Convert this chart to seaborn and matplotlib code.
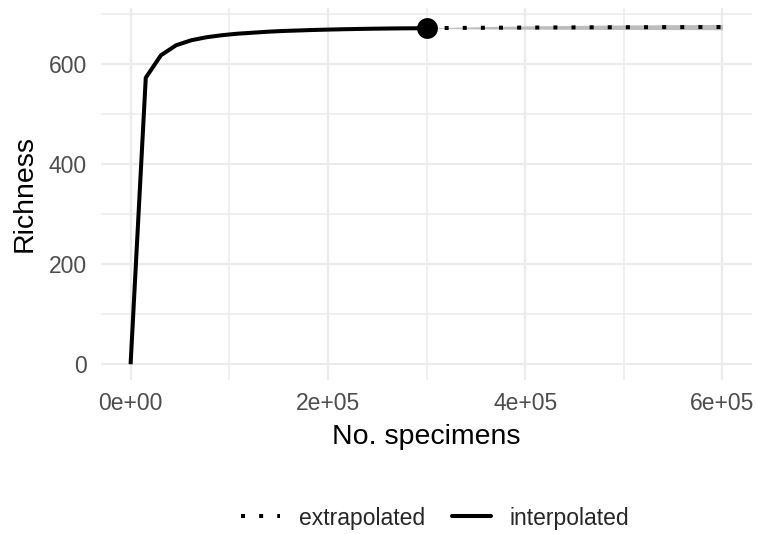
import numpy as np
import pandas as pd
import matplotlib
matplotlib.use("Agg")
import matplotlib.pyplot as plt
from matplotlib.lines import Line2D
from matplotlib.ticker import FuncFormatter, MultipleLocator
import seaborn as sns

# ---- data ----
interp_x = [0, 15385, 30769, 46154, 61538, 76923, 92308, 107692, 123077, 138462,
            153846, 169231, 184615, 200000, 215385, 230769, 246154, 261538,
            276923, 292308, 300000]
interp_y = [0, 573, 618, 638, 648, 654, 658, 661, 663, 665,
            666.5, 667.5, 668.5, 669.3, 670, 670.6, 671.1, 671.5,
            671.8, 672.0, 672.2]
extrap_x = [300000, 307692, 323077, 338462, 353846, 369231, 384615, 400000,
            415385, 430769, 446154, 461538, 476923, 492308, 507692, 523077,
            538462, 553846, 569231, 584615, 600000]
extrap_y = [672.2, 672.3, 672.5, 672.7, 672.9, 673.1, 673.2, 673.4, 673.5,
            673.6, 673.7, 673.8, 673.9, 674.0, 674.1, 674.1, 674.2, 674.3,
            674.3, 674.4, 674.4]
extrap_lo = [672.2, 671.8, 671.4, 671.0, 670.7, 670.5, 670.3, 670.1, 670.0,
             669.9, 669.8, 669.7, 669.6, 669.5, 669.5, 669.4, 669.4, 669.3,
             669.3, 669.2, 669.2]
extrap_hi = [672.2, 672.8, 673.6, 674.4, 675.1, 675.7, 676.1, 676.7, 677.0,
             677.3, 677.6, 677.9, 678.2, 678.5, 678.7, 678.8, 679.0, 679.3,
             679.3, 679.6, 679.6]
ref_x = [300000]
ref_y = [672.2]
methods = ["extrapolated", "interpolated"]
x_ticks = [0, 200000, 400000, 600000]
y_ticks = [0, 200, 400, 600]

df = pd.DataFrame({
    "x": interp_x + extrap_x,
    "y": interp_y + extrap_y,
    "method": ["interpolated"] * len(interp_x) + ["extrapolated"] * len(extrap_x),
})

sns.set_theme(style="white")
plt.rcParams["font.family"] = ["Liberation Sans", "DejaVu Sans"]

fig = plt.figure(figsize=(7.57, 5.34), dpi=100)
ax = fig.add_axes([101 / 757, 1 - 380 / 534, 651 / 757, 372 / 534])

ax.fill_between(extrap_x, extrap_lo, extrap_hi, color="#bdbdbd", lw=0, zorder=2)

lw = 2.9
dot = (1, 3.5)
sns.lineplot(data=df, x="x", y="y", hue="method", style="method",
             palette={"interpolated": "black", "extrapolated": "black"},
             dashes={"interpolated": "", "extrapolated": dot},
             linewidth=lw, ax=ax, legend=False, zorder=3, sort=False,
             estimator=None)
for l in ax.lines:
    l.set_dash_capstyle("butt")
    l.set_solid_capstyle("butt")

sns.scatterplot(x=ref_x, y=ref_y, color="black", s=225, linewidth=0, ax=ax,
                zorder=4, legend=False)

ax.set_xlim(-30000, 630000)
ax.set_ylim(-31.5, 712.5)
ax.set_xticks(x_ticks)
ax.set_yticks(y_ticks)
ax.xaxis.set_minor_locator(MultipleLocator(100000))
ax.yaxis.set_minor_locator(MultipleLocator(100))
ax.xaxis.set_major_formatter(FuncFormatter(lambda v, p: f"{v:.0e}"))
ax.grid(True, which="major", color="#ebebeb", linewidth=1.6, zorder=0)
ax.grid(True, which="minor", color="#ebebeb", linewidth=1.1, zorder=0)
ax.set_axisbelow(True)
for s in ax.spines.values():
    s.set_visible(False)
ax.tick_params(axis="both", which="both", length=0, labelsize=16.5,
               labelcolor="#4d4d4d")
ax.tick_params(axis="x", pad=9)
ax.tick_params(axis="y", pad=10)
ax.set_xlabel("No. specimens", fontsize=20.5, color="black", labelpad=6)
ax.set_ylabel("Richness", fontsize=20.5, color="black", labelpad=8)

handles = [
    Line2D([0], [0], color="black", lw=lw, linestyle=(0, dot), dash_capstyle="butt"),
    Line2D([0], [0], color="black", lw=lw),
]
fig.legend(handles, methods, loc="center", bbox_to_anchor=(0.575, 1 - 518 / 534),
           ncol=2, frameon=False, fontsize=16.5, handlelength=1.7,
           handletextpad=0.8, columnspacing=1.2)

fig.savefig("out.png", dpi=100)
